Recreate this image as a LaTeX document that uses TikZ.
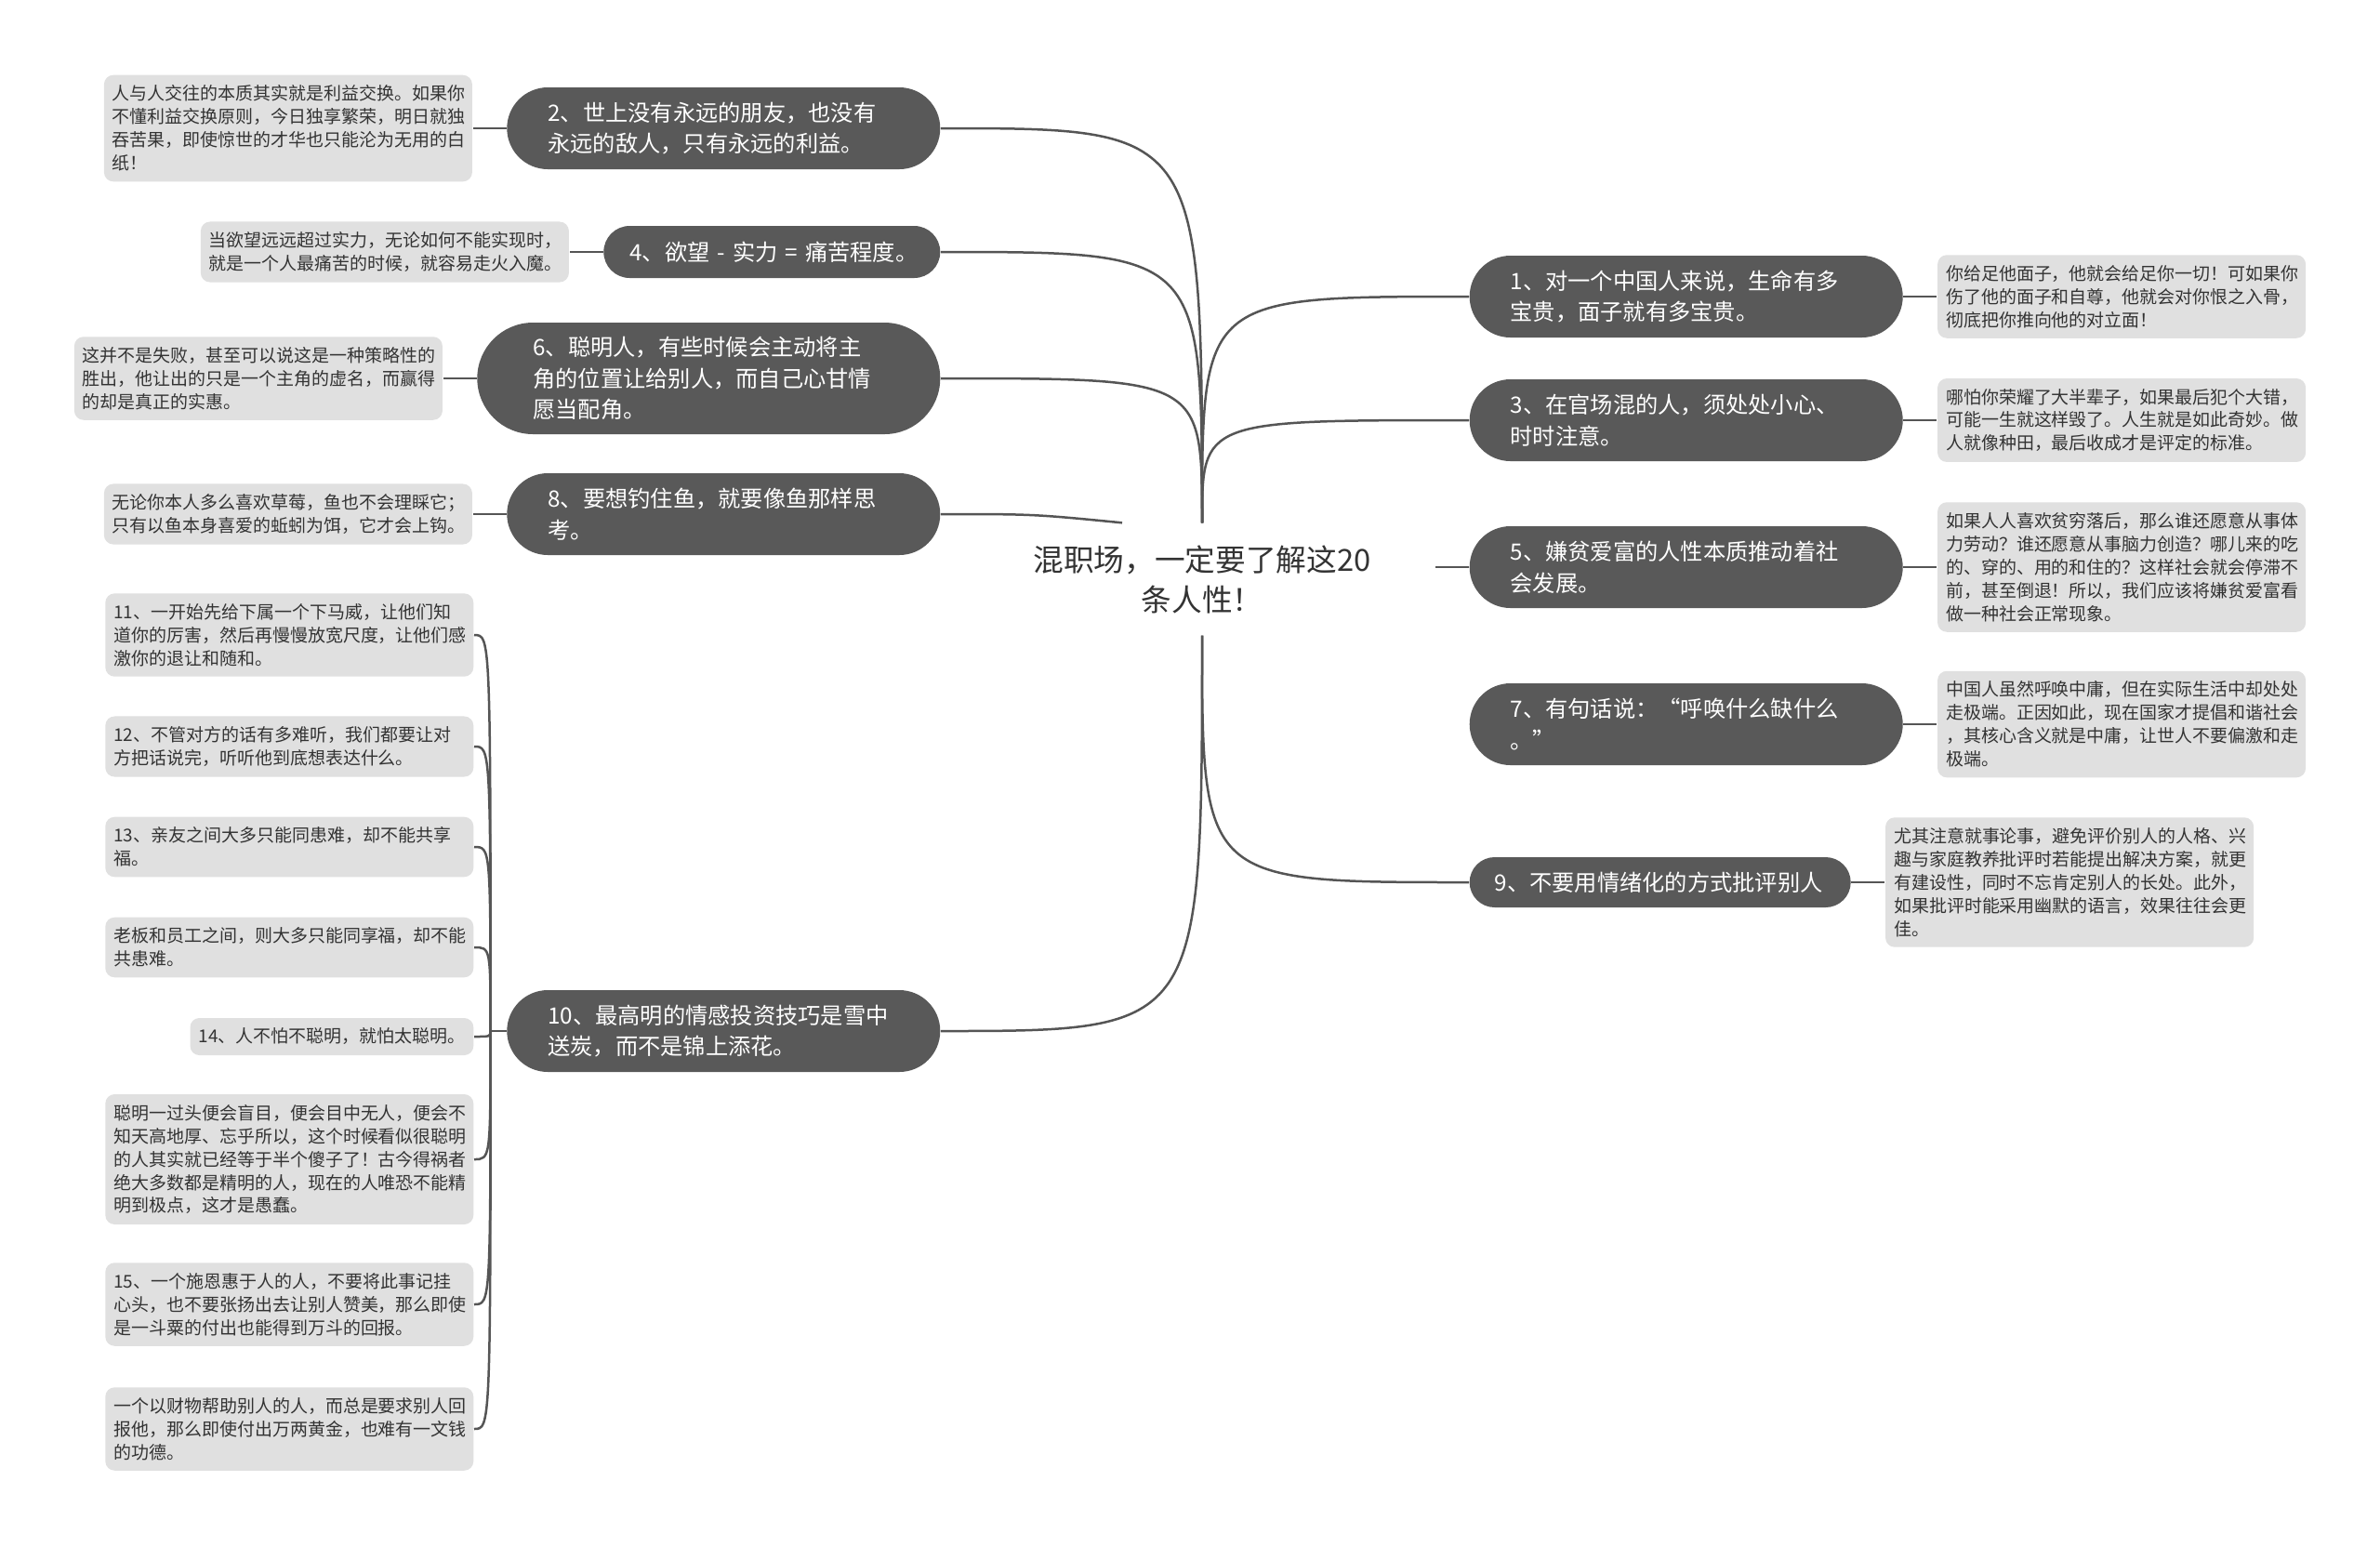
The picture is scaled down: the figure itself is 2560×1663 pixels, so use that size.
\documentclass[tikz,border=0pt]{standalone}
\usepackage{fontspec}
\setmainfont{Noto Sans CJK SC}
\usetikzlibrary{positioning}

\definecolor{topicfill}{HTML}{595959}
\definecolor{leaffill}{HTML}{E0E0E0}
\definecolor{linecol}{HTML}{555555}
\definecolor{inktext}{HTML}{333333}

\newcommand\rootfont{\fontsize{9.3pt}{12.2pt}\selectfont}
\newcommand\topicfont{\fontsize{6.9pt}{9.6pt}\selectfont}
\newcommand\leaffont{\fontsize{5.4pt}{7.1pt}\selectfont}

\tikzset{
  root/.style={align=center, font=\rootfont, text=inktext, inner sep=0pt,
    minimum width=50mm, minimum height=12mm},
  topic/.style={fill=topicfill, text=white, font=\topicfont, align=left, inner ysep=0pt},
  pill/.style 2 args={minimum height=#1, inner xsep=#2, rounded corners=#2},
  topictwo/.style={topic, pill={8.8mm}{4.4mm}, text width=37.8mm},
  leaf/.style={fill=leaffill, text=inktext, font=\leaffont, align=left,
    rounded corners=1mm, inner xsep=0.9mm, inner ysep=1.1mm},
  leafbox/.style={leaf, text width=37.8mm},
  branch/.style={draw=linecol, line width=0.25mm},
  node distance=3.6mm
}

\begin{document}
\begin{tikzpicture}[x=0.1mm, y=-0.1mm]
  \useasboundingbox (0,0) rectangle (2560,1663);
  \fill[white] (0,0) rectangle (2560,1663);

  \node[root] (root) at (1293,623) {混职场，一定要了解这20\\条人性！};

  % left topics
  \node[topictwo, anchor=east] (N2) at (1012,138) {2、世上没有永远的朋友，也没有\\永远的敌人，只有永远的利益。};
  \node[topic, pill={5.6mm}{2.8mm}, text width=30.6mm, anchor=east] (N4) at (1012,271) {\mbox{4、欲望 - 实力 = 痛苦程度。}};
  \node[topic, pill={12mm}{6mm}, text width=37.8mm, anchor=east] (N6) at (1012,407) {6、聪明人，有些时候会主动将主\\角的位置让给别人，而自己心甘情\\愿当配角。};
  \node[topictwo, anchor=east] (N8) at (1012,553) {8、要想钓住鱼，就要像鱼那样思\\考。};
  \node[topictwo, anchor=east] (N10) at (1012,1109) {10、最高明的情感投资技巧是雪中\\送炭，而不是锦上添花。};

  % right topics
  \node[topictwo, anchor=west] (N1) at (1580,319) {1、对一个中国人来说，生命有多\\宝贵，面子就有多宝贵。};
  \node[topictwo, anchor=west] (N3) at (1580,452) {3、在官场混的人，须处处小心、\\时时注意。};
  \node[topictwo, anchor=west] (N5) at (1580,610) {5、嫌贫爱富的人性本质推动着社\\会发展。};
  \node[topictwo, anchor=west] (N7) at (1580,779) {7、有句话说：“呼唤什么缺什么\\。”};
  \node[topic, pill={5.4mm}{2.7mm}, text width=35.6mm, anchor=west] (N9) at (1580,949) {9、不要用情绪化的方式批评别人};

  % leaves of the left topics
  \node[leafbox, left=of N2] (L2) {人与人交往的本质其实就是利益交换。如果你\\不懂利益交换原则，今日独享繁荣，明日就独\\吞苦果，即使惊世的才华也只能沦为无用的白\\纸！};
  \node[leafbox, left=of N4] (L4) {当欲望远远超过实力，无论如何不能实现时，\\就是一个人最痛苦的时候，就容易走火入魔。};
  \node[leafbox, left=of N6] (L6) {这并不是失败，甚至可以说这是一种策略性的\\胜出，他让出的只是一个主角的虚名，而赢得\\的却是真正的实惠。};
  \node[leafbox, left=of N8] (L8) {无论你本人多么喜欢草莓，鱼也不会理睬它；\\只有以鱼本身喜爱的蚯蚓为饵，它才会上钩。};

  % leaves of the right topics
  \node[leafbox, right=of N1] (R1) {你给足他面子，他就会给足你一切！可如果你\\伤了他的面子和自尊，他就会对你恨之入骨，\\彻底把你推向他的对立面！};
  \node[leafbox, right=of N3] (R3) {哪怕你荣耀了大半辈子，如果最后犯个大错，\\可能一生就这样毁了。人生就是如此奇妙。做\\人就像种田，最后收成才是评定的标准。};
  \node[leafbox, right=of N5] (R5) {如果人人喜欢贫穷落后，那么谁还愿意从事体\\力劳动？谁还愿意从事脑力创造？哪儿来的吃\\的、穿的、用的和住的？这样社会就会停滞不\\前，甚至倒退！所以，我们应该将嫌贫爱富看\\做一种社会正常现象。};
  \node[leafbox, right=of N7] (R7) {中国人虽然呼唤中庸，但在实际生活中却处处\\走极端。正因如此，现在国家才提倡和谐社会\\，其核心含义就是中庸，让世人不要偏激和走\\极端。};
  \node[leafbox, right=of N9] (R9) {尤其注意就事论事，避免评价别人的人格、兴\\趣与家庭教养批评时若能提出解决方案，就更\\有建设性，同时不忘肯定别人的长处。此外，\\如果批评时能采用幽默的语言，效果往往会更\\佳。};

  % leaves of topic 10
  \coordinate[left=1.7mm of N10] (j10);
  \node[leafbox, anchor=east] (L11) at (510,683) {11、一开始先给下属一个下马威，让他们知\\道你的厉害，然后再慢慢放宽尺度，让他们感\\激你的退让和随和。};
  \node[leafbox, anchor=east] (L12) at (510,803) {12、不管对方的话有多难听，我们都要让对\\方把话说完，听听他到底想表达什么。};
  \node[leafbox, anchor=east] (L13) at (510,911) {13、亲友之间大多只能同患难，却不能共享\\福。};
  \node[leafbox, anchor=east] (Lboss) at (510,1019) {老板和员工之间，则大多只能同享福，却不能\\共患难。};
  \node[leaf, anchor=east] (L14) at (510,1115) {14、人不怕不聪明，就怕太聪明。};
  \node[leafbox, anchor=east] (Lsmart) at (510,1247) {聪明一过头便会盲目，便会目中无人，便会不\\知天高地厚、忘乎所以，这个时候看似很聪明\\的人其实就已经等于半个傻子了！古今得祸者\\绝大多数都是精明的人，现在的人唯恐不能精\\明到极点，这才是愚蠢。};
  \node[leafbox, anchor=east] (L15) at (510,1403) {15、一个施恩惠于人的人，不要将此事记挂\\心头，也不要张扬出去让别人赞美，那么即使\\是一斗粟的付出也能得到万斗的回报。};
  \node[leafbox, anchor=east] (Lgold) at (510,1537) {一个以财物帮助别人的人，而总是要求别人回\\报他，那么即使付出万两黄金，也难有一文钱\\的功德。};

  % root to topics
  \foreach \n in {N2,N4,N6}
    \draw[branch] (root.north) .. controls (root.north |- \n.east) .. (\n.east);
  \foreach \n in {N1,N3}
    \draw[branch] (root.north) .. controls (root.north |- \n.west) .. (\n.west);
  \draw[branch] (N8.east) .. controls +(10mm,0) .. ([xshift=-8.6mm]root.north);
  \draw[branch] (N5.west) -- (N5.west -| root.east);
  \draw[branch] (root.south) .. controls (root.south |- N10.east) .. (N10.east);
  \draw[branch] (root.south) .. controls (root.south |- N9.west) .. (N9.west);

  % topics to leaves
  \foreach \n/\l in {N2/L2,N4/L4,N6/L6,N8/L8}
    \draw[branch] (\n.west) -- (\l.east);
  \foreach \n/\l in {N1/R1,N3/R3,N5/R5,N7/R7,N9/R9}
    \draw[branch] (\n.east) -- (\l.west);
  \draw[branch] (N10.west) -- (j10);
  \foreach \l in {L11,L12,L13,Lboss,L14,Lsmart,L15,Lgold}
    \draw[branch] (j10) .. controls (j10 |- \l.east) .. (\l.east);
\end{tikzpicture}
\end{document}
